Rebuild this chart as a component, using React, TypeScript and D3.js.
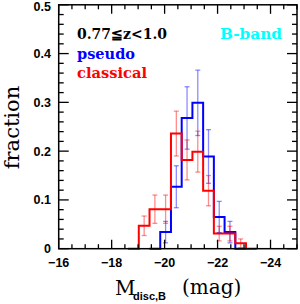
import React from "react";
import * as d3 from "d3";

// bins (0.4-mag-ish wide, running brighter to the right)
const binStart = -18.62;
const binWidth = 0.405;
const classicalFrac = [0, 0.047, 0.081, 0.081, 0.236, 0.182, 0.199, 0.119, 0.031, 0.031, 0.011, 0];
const classicalErr = [0, 0.02, 0.029, 0.029, 0.046, 0.041, 0.042, 0.031, 0.015, 0.015, 0.009, 0];
const pseudoFirstBin = 2;
const pseudoFrac = [0, 0.034, 0.127, 0.268, 0.299, 0.189, 0.065, 0.034, 0];
const pseudoErr = [0, 0.022, 0.043, 0.064, 0.067, 0.055, 0.032, 0.022, 0];

const xMajorTicks = [-16, -18, -20, -22, -24];
const yMajorTicks = [0, 0.1, 0.2, 0.3, 0.4, 0.5];
const yTickLabels = ["0", "0.1", "0.2", "0.3", "0.4", "0.5"];
const xTickLabels = ["\u221216", "\u221218", "\u221220", "\u221222", "\u221224"];

const W = 300;
const H = 304;
const L = 58.7, R = 297, T = 4.8, B = 248.7;

export default function App() {
  const x = d3.scaleLinear().domain([-16, -25]).range([L, R]);
  const y = d3.scaleLinear().domain([0, 0.5]).range([B, T]);

  const xMinor = d3.range(-16, -25.001, -0.5).filter((v) => !xMajorTicks.includes(v));
  const yMinor = d3.range(0, 0.5001, 0.02).map((v) => +v.toFixed(3)).filter((v) => Math.abs(v * 10 - Math.round(v * 10)) > 1e-6);

  const line = d3.line<[number, number]>();
  const stepPath = (vals: number[], offset: number) => {
    const pts: [number, number][] = [];
    vals.forEach((v, i) => {
      const a = binStart - (i + offset) * binWidth;
      const b = a - binWidth;
      pts.push([x(a), y(v)], [x(b), y(v)]);
    });
    return line(pts) || "";
  };

  const errBars = (vals: number[], errs: number[], offset: number, color: string) =>
    vals.map((v, i) => {
      const e = errs[i];
      if (!(v > 0 && e > 0)) return null;
      const cx = x(binStart - (i + offset + 0.5) * binWidth);
      const y1 = y(v + e), y2 = y(v - e);
      return (
        <g key={i} stroke={color} strokeOpacity={0.45} strokeWidth={1.3}>
          <line x1={cx} x2={cx} y1={y1} y2={y2} />
          <line x1={cx - 2.5} x2={cx + 2.5} y1={y1} y2={y1} />
          <line x1={cx - 2.5} x2={cx + 2.5} y1={y2} y2={y2} />
        </g>
      );
    });

  const sans = "'Liberation Sans', Arial, sans-serif";
  const serif = "'DejaVu Serif', serif";

  return (
    <svg width={W} height={H} style={{ position: "absolute", left: 0, top: 0, background: "#fff" }}>
      {/* histograms */}
      <path d={stepPath(pseudoFrac, pseudoFirstBin)} fill="none" stroke="#0000ff" strokeWidth={2} />
      <path d={stepPath(classicalFrac, 0)} fill="none" stroke="#ff0000" strokeWidth={2} />
      {errBars(pseudoFrac, pseudoErr, pseudoFirstBin, "#0000ff")}
      {errBars(classicalFrac, classicalErr, 0, "#ff0000")}

      {/* frame */}
      <rect x={L} y={T} width={R - L} height={B - T} fill="none" stroke="#000" strokeWidth={1.5} />
      <g stroke="#000" strokeWidth={1.3}>
        {xMajorTicks.map((v) => (
          <g key={"xm" + v}>
            <line x1={x(v)} x2={x(v)} y1={B} y2={B - 9} />
            <line x1={x(v)} x2={x(v)} y1={T} y2={T + 9} />
          </g>
        ))}
        {xMinor.map((v) => (
          <g key={"xn" + v}>
            <line x1={x(v)} x2={x(v)} y1={B} y2={B - 4.5} />
            <line x1={x(v)} x2={x(v)} y1={T} y2={T + 4.5} />
          </g>
        ))}
        {yMajorTicks.map((v) => (
          <g key={"ym" + v}>
            <line x1={L} x2={L + 10} y1={y(v)} y2={y(v)} />
            <line x1={R} x2={R - 10} y1={y(v)} y2={y(v)} />
          </g>
        ))}
        {yMinor.map((v) => (
          <g key={"yn" + v}>
            <line x1={L} x2={L + 5} y1={y(v)} y2={y(v)} />
            <line x1={R} x2={R - 5} y1={y(v)} y2={y(v)} />
          </g>
        ))}
      </g>

      {/* tick labels */}
      <g fontFamily={sans} fontWeight="bold" fontSize={12.5} fill="#000">
        {xMajorTicks.map((v, i) => (
          <text key={"xl" + v} x={x(v)} y={267} textAnchor="middle">{xTickLabels[i]}</text>
        ))}
        {yMajorTicks.map((v, i) => (
          <text key={"yl" + v} x={51} y={Math.max(y(v) + 4.5, 10.5)} textAnchor="end">{yTickLabels[i]}</text>
        ))}
      </g>

      {/* axis titles */}
      <text transform="translate(18.5,127.5) rotate(-90)" textAnchor="middle" fontFamily={serif} fontSize={21} fill="#000">fraction</text>
      <text x={115} y={295} fontFamily={serif} fontSize={20} fill="#000">M</text>
      <text x={133} y={300} fontFamily={sans} fontWeight="bold" fontSize={11} fill="#000">disc,B</text>
      <text x={182} y={294} fontFamily={serif} fontSize={20} fill="#000">(mag)</text>

      {/* annotations */}
      <g fontFamily={serif} fontWeight="bold" fontSize={14}>
        <text x={77} y={39} fill="#000" textLength={90} lengthAdjust="spacingAndGlyphs">0.77≦z&lt;1.0</text>
        <text x={77} y={59} fill="#0000ff" textLength={58} lengthAdjust="spacingAndGlyphs">pseudo</text>
        <text x={77} y={78} fill="#ff0000" textLength={70} lengthAdjust="spacingAndGlyphs">classical</text>
        <text x={220} y={39} fill="#00ffff" textLength={62} lengthAdjust="spacingAndGlyphs">B-band</text>
      </g>
    </svg>
  );
}
